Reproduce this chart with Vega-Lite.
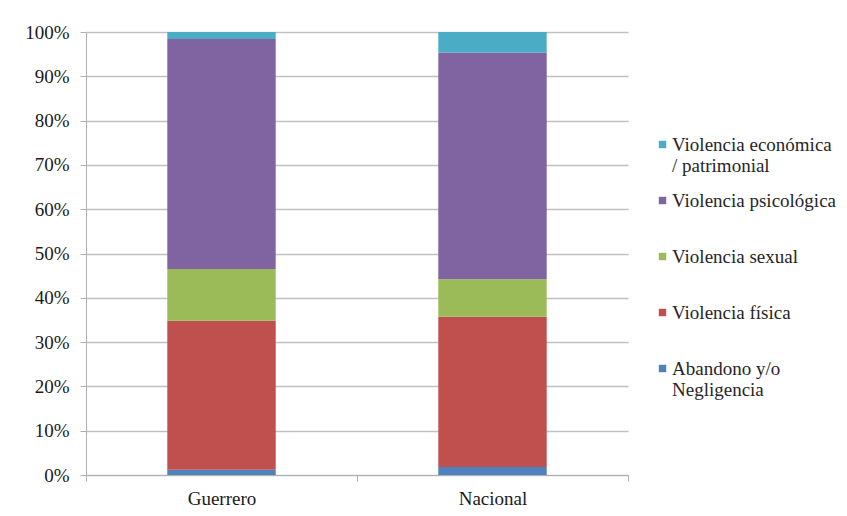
{
  "$schema": "https://vega.github.io/schema/vega-lite/v6.json",
  "width": 542,
  "height": 443,
  "autosize": {"type": "none"},
  "padding": {"left": 86, "top": 32, "right": 219, "bottom": 41},
  "background": "white",
  "data": {
    "values": [
      {"region": "Guerrero", "tipo": "Abandono y/o Negligencia", "orden": 1, "valor": 0.012},
      {"region": "Guerrero", "tipo": "Violencia física", "orden": 2, "valor": 0.336},
      {"region": "Guerrero", "tipo": "Violencia  sexual", "orden": 3, "valor": 0.117},
      {"region": "Guerrero", "tipo": "Violencia psicológica", "orden": 4, "valor": 0.519},
      {"region": "Guerrero", "tipo": "Violencia económica / patrimonial", "orden": 5, "valor": 0.016},
      {"region": "Nacional", "tipo": "Abandono y/o Negligencia", "orden": 1, "valor": 0.018},
      {"region": "Nacional", "tipo": "Violencia física", "orden": 2, "valor": 0.339},
      {"region": "Nacional", "tipo": "Violencia  sexual", "orden": 3, "valor": 0.085},
      {"region": "Nacional", "tipo": "Violencia psicológica", "orden": 4, "valor": 0.512},
      {"region": "Nacional", "tipo": "Violencia económica / patrimonial", "orden": 5, "valor": 0.046}
    ]
  },
  "mark": {"type": "bar", "width": {"band": 0.4}},
  "encoding": {
    "x": {
      "field": "region",
      "type": "nominal",
      "scale": {"paddingInner": 0, "paddingOuter": 0},
      "axis": {
        "title": null,
        "labelAngle": 0,
        "tickBand": "extent",
        "labelFont": "'Liberation Serif', 'DejaVu Serif', serif",
        "labelFontSize": 19,
        "labelColor": "#1a1a1a",
        "labelPadding": 8,
        "domainColor": "#b0b0b0",
        "tickColor": "#b0b0b0",
        "tickSize": 6,
        "grid": false
      }
    },
    "y": {
      "field": "valor",
      "type": "quantitative",
      "stack": "zero",
      "scale": {"domain": [0, 1], "nice": false},
      "axis": {
        "title": null,
        "values": [0, 0.1, 0.2, 0.3, 0.4, 0.5, 0.6, 0.7, 0.8, 0.9, 1],
        "format": ".0%",
        "labelFont": "'Liberation Serif', 'DejaVu Serif', serif",
        "labelFontSize": 19,
        "labelColor": "#1a1a1a",
        "labelPadding": 11,
        "domainColor": "#b0b0b0",
        "tickColor": "#b0b0b0",
        "tickSize": 6,
        "gridColor": "#c0c0c0",
        "gridWidth": 1.3
      }
    },
    "color": {
      "field": "tipo",
      "type": "nominal",
      "scale": {
        "domain": ["Violencia económica / patrimonial", "Violencia psicológica", "Violencia  sexual", "Violencia física", "Abandono y/o Negligencia"],
        "range": ["#4bacc6", "#8064a2", "#9bbb59", "#c0504d", "#4f81bd"]
      },
      "legend": {
        "title": null,
        "orient": "none",
        "legendX": 567,
        "legendY": 103,
        "symbolType": "square",
        "symbolSize": 55,
        "symbolStrokeWidth": 0,
        "labelFont": "'Liberation Serif', 'DejaVu Serif', serif",
        "labelFontSize": 19,
        "labelColor": "#262626",
        "labelOffset": 0,
        "labelLimit": 300,
        "labelBaseline": "middle",
        "gridAlign": "all",
        "rowPadding": 15,
        "labelExpr": "datum.label == 'Violencia económica / patrimonial' ? ['Violencia económica', ' / patrimonial'] : datum.label == 'Abandono y/o Negligencia' ? ['Abandono y/o', 'Negligencia'] : datum.label"
      }
    },
    "order": {"field": "orden", "type": "quantitative", "sort": "ascending"}
  },
  "config": {
    "view": {"stroke": null}
  }
}
